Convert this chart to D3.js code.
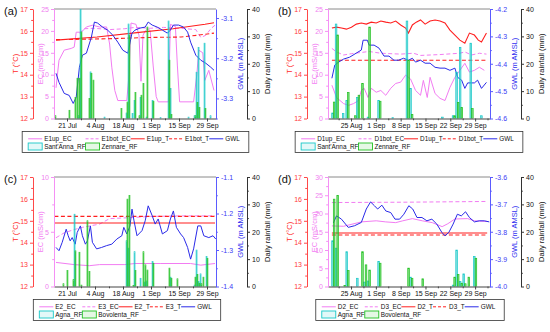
<!DOCTYPE html>
<html>
<head>
<meta charset="utf-8">
<script src="https://cdn.jsdelivr.net/npm/d3@7"></script>
<style>
  body { margin: 0; background: #fff; }
  svg { font-family: Arial, 'Liberation Sans', sans-serif; }
</style>
</head>
<body>
<svg id="chart" width="550" height="332"></svg>
<script>
// dates are written as 'Mon day', day may be fractional
const monthIdx = { Jul: 6, Aug: 7, Sep: 8, Oct: 9 };
const day = s => {
  const [m, d] = s.split(' ');
  return new Date(Date.UTC(2019, monthIdx[m], 1) + (+d - 1) * 864e5);
};

/* ---------- panel (a) : E1 ---------- */
const e1upEC = [['Jul 15.5', 7], ['Jul 17', 13.3], ['Jul 19.6', 15.6], ['Jul 23.1', 16], ['Jul 24.6', 16.3],
  ['Jul 25.6', 19.7], ['Jul 28.2', 19.7], ['Jul 30.7', 20.9], ['Aug 2.7', 21.3], ['Aug 6.3', 20.9],
  ['Aug 9.8', 20.9], ['Aug 11.3', 17], ['Aug 12.4', 11.7], ['Aug 13.9', 6.4], ['Aug 15.4', 4.1],
  ['Aug 19.9', 4.1], ['Aug 21', 10], ['Aug 22', 21.8], ['Aug 24.5', 21.5], ['Aug 26', 19], ['Aug 27', 8.5],
  ['Aug 28', 19], ['Aug 29.1', 20], ['Aug 30.6', 20.5], ['Aug 31.6', 20], ['Sep 2.1', 12], ['Sep 3.6', 5],
  ['Sep 4.6', 3.8], ['Sep 9.7', 3.8], ['Sep 10.7', 21.5], ['Sep 13.2', 21], ['Sep 14.2', 12],
  ['Sep 15.3', 3.8], ['Sep 22.3', 3.8], ['Sep 23.9', 10], ['Sep 24.9', 15.6], ['Sep 26.9', 15],
  ['Sep 27.9', 8.7], ['Sep 29.9', 11], ['Oct 2.5', 6.4]];
const e1botEC = [['Jul 27.2', 19.5], ['Jul 29.7', 20.5], ['Aug 3.7', 20.6], ['Aug 11.3', 20.3], ['Aug 18.9', 20.5],
  ['Aug 24', 20.8], ['Aug 31.6', 20.6], ['Sep 7.2', 20.8], ['Sep 15.8', 20.6], ['Sep 23.4', 20.3],
  ['Sep 25.9', 18.5], ['Sep 28.4', 19], ['Sep 30.9', 20.5], ['Oct 3', 21.3]];
const e1upT = [['Jul 15.5', 15.58], ['Aug 5', 15.72], ['Aug 25', 15.92], ['Sep 12', 16.1], ['Sep 28', 16.3], ['Oct 2.5', 16.37]];
const e1botT = [['Jul 15.5', 15.6], ['Aug 10', 15.64], ['Aug 31', 15.7], ['Sep 16', 15.72], ['Sep 24', 15.8], ['Oct 2.5', 15.9]];
const gwlE1 = [['Jul 15.5', -3.2375], ['Jul 17', -3.26], ['Jul 19.6', -3.2875], ['Jul 22.1', -3.2925],
  ['Jul 24.1', -3.3125], ['Jul 25.6', -3.2975], ['Jul 27.2', -3.2225], ['Jul 28.7', -3.1925],
  ['Jul 30.7', -3.1875], ['Aug 2.2', -3.1475], ['Aug 3.7', -3.11], ['Aug 5.3', -3.1125], ['Aug 7.8', -3.1225],
  ['Aug 10.3', -3.13], ['Aug 12.9', -3.1425], ['Aug 15.4', -3.16], ['Aug 17.9', -3.18], ['Aug 20.4', -3.1875],
  ['Aug 22.5', -3.1375], ['Aug 24', -3.13], ['Aug 26.5', -3.125], ['Aug 29.1', -3.1225], ['Aug 30.6', -3.11],
  ['Sep 1.6', -3.1175], ['Sep 4.1', -3.1225], ['Sep 6.7', -3.13], ['Sep 9.2', -3.1375], ['Sep 10.7', -3.13],
  ['Sep 12.2', -3.1175], ['Sep 14.8', -3.1175], ['Sep 17.3', -3.1225], ['Sep 19.3', -3.135],
  ['Sep 20.8', -3.16], ['Sep 23.4', -3.1925], ['Sep 25.9', -3.205], ['Sep 28.4', -3.2125],
  ['Sep 30.9', -3.2225], ['Oct 2.5', -3.23]];

/* ---------- panel (b) : D1 ---------- */
const d1upT = [['Aug 19.6', 16.13], ['Aug 20.9', 16.17], ['Aug 22.3', 16.13], ['Aug 23.7', 16.08], ['Aug 25.1', 16.17],
  ['Aug 26.5', 16.31], ['Aug 27.9', 16.36], ['Aug 29.3', 16.31], ['Aug 30.7', 16.4], ['Sep 1.1', 16.36],
  ['Sep 2.4', 16.45], ['Sep 3.8', 16.4], ['Sep 5.2', 16.36], ['Sep 6.6', 16.45], ['Sep 8', 16.27],
  ['Sep 9.4', 16.13], ['Sep 10.2', 15.9], ['Sep 11.3', 16.27], ['Sep 12.4', 16.4], ['Sep 13.6', 16.5],
  ['Sep 14.9', 16.31], ['Sep 16.3', 16.45], ['Sep 17.7', 16.5], ['Sep 19.1', 16.45], ['Sep 20.5', 16.36],
  ['Sep 21.9', 16.04], ['Sep 23.3', 15.81], ['Sep 24.7', 15.58], ['Sep 26.1', 15.44], ['Sep 27.4', 15.9],
  ['Sep 28.8', 15.81], ['Sep 29.9', 15.58], ['Sep 30.8', 15.49], ['Oct 2.2', 15.9]];
const d1botT = [['Aug 19.6', 14.66], ['Oct 2.5', 14.66]];
const d1upEC = [['Aug 19.6', 7.6], ['Aug 20.9', 4.8], ['Aug 22.9', 3.4], ['Aug 24.3', 3], ['Aug 25.7', 3.4],
  ['Aug 27.1', 4.1], ['Aug 27.9', 6.4], ['Aug 28.7', 6.9], ['Aug 29.8', 4.8], ['Aug 30.7', 6.9], ['Sep 1.1', 6],
  ['Sep 2.4', 6.4], ['Sep 3.8', 5.3], ['Sep 5.2', 6.9], ['Sep 6.6', 8], ['Sep 8', 8.3], ['Sep 9.4', 9.9],
  ['Sep 10.2', 9.4], ['Sep 10.8', 9], ['Sep 12.2', 6.4], ['Sep 13.6', 5.3], ['Sep 14.4', 8.7], ['Sep 15.5', 4.8],
  ['Sep 16.3', 9.4], ['Sep 17.7', 5.7], ['Sep 19.1', 4.6], ['Sep 20.5', 4.1], ['Sep 21.9', 7.1], ['Sep 23.3', 9.4],
  ['Sep 24.7', 11], ['Sep 26.1', 12.6], ['Sep 27.4', 10.6], ['Sep 28.8', 11], ['Sep 30.2', 11.7], ['Oct 1.6', 11]];
const d1botEC = [['Aug 19.6', 16], ['Aug 20.9', 15.2], ['Aug 22.9', 14.5], ['Aug 25.1', 14.8], ['Aug 30.1', 15.3],
  ['Sep 2.4', 14.9], ['Sep 8', 14.7], ['Sep 11.6', 14.9], ['Sep 13.6', 14.4], ['Sep 19.1', 14.6],
  ['Sep 24.7', 14.9], ['Sep 26.1', 15.2], ['Sep 28', 14.5], ['Sep 30.2', 14.9], ['Oct 2.2', 14.7]];
const gwlD1 = [['Aug 19.6', -4.453], ['Aug 20.4', -4.405], ['Aug 21.5', -4.394], ['Aug 22.9', -4.383],
  ['Aug 24.6', -4.376], ['Aug 26.5', -4.361], ['Aug 27.9', -4.35], ['Aug 28.4', -4.314], ['Aug 29.6', -4.314],
  ['Aug 30.1', -4.332], ['Aug 31.5', -4.332], ['Sep 1.9', -4.343], ['Sep 3.3', -4.372], ['Sep 4.7', -4.372],
  ['Sep 6.1', -4.387], ['Sep 7.4', -4.387], ['Sep 8.8', -4.38], ['Sep 10.2', -4.387], ['Sep 11.3', -4.38],
  ['Sep 12.2', -4.394], ['Sep 13.6', -4.387], ['Sep 14.9', -4.398], ['Sep 16.3', -4.398], ['Sep 17.7', -4.413],
  ['Sep 19.1', -4.416], ['Sep 20.5', -4.416], ['Sep 21.9', -4.424], ['Sep 23.3', -4.416], ['Sep 24.1', -4.45],
  ['Sep 25.2', -4.46], ['Sep 26.1', -4.49], ['Sep 26.9', -4.47], ['Sep 28', -4.47], ['Sep 28.8', -4.47],
  ['Sep 29.7', -4.46], ['Sep 30.8', -4.49], ['Oct 2.2', -4.468]];

/* ---------- panel (c) : E2 / E3 ---------- */
const e2EC = [['Jul 15.5', 2.2], ['Jul 24.6', 2.0], ['Aug 1.2', 1.9], ['Aug 6.3', 2.0], ['Aug 18.9', 2.0],
  ['Aug 24', 2.1], ['Sep 5.6', 2.1], ['Sep 20.8', 2.1], ['Sep 25.9', 1.95], ['Oct 3', 2.1]];
const e3EC = [['Jul 15.5', 4.45], ['Jul 19.6', 4.9], ['Jul 24.6', 5.2], ['Jul 28.7', 5.4], ['Aug 6.3', 5.7],
  ['Aug 11.3', 6.2], ['Aug 23', 6.3], ['Aug 31.6', 6.4], ['Sep 15.8', 6.45], ['Oct 3', 6.45]];
const e2T = [['Jul 14.7', 14.9], ['Oct 3', 14.9]];
const e3T = [['Jul 14.7', 15.2], ['Oct 3', 15.2]];
const gwlE2 = [['Jul 15.5', -1.293], ['Jul 17', -1.302], ['Jul 18.6', -1.279], ['Jul 20.6', -1.243],
  ['Jul 21.6', -1.261], ['Jul 22.6', -1.275], ['Jul 23.6', -1.266], ['Jul 25.1', -1.284], ['Jul 26.1', -1.252],
  ['Jul 27.7', -1.234], ['Jul 28.7', -1.261], ['Jul 30.2', -1.284], ['Jul 31.2', -1.275], ['Aug 1.7', -1.234],
  ['Aug 2.7', -1.279], ['Aug 4.8', -1.297], ['Aug 7.3', -1.293], ['Aug 9.8', -1.288], ['Aug 12.4', -1.284],
  ['Aug 14.9', -1.27], ['Aug 17.4', -1.261], ['Aug 18.4', -1.238], ['Aug 19.9', -1.256], ['Aug 21.5', -1.234],
  ['Aug 22.5', -1.188], ['Aug 23.5', -1.22], ['Aug 25', -1.261], ['Aug 27.5', -1.247], ['Aug 29.1', -1.22],
  ['Aug 30.6', -1.179], ['Sep 1.6', -1.206], ['Sep 3.1', -1.229], ['Sep 4.6', -1.215], ['Sep 6.7', -1.256],
  ['Sep 9.2', -1.247], ['Sep 10.7', -1.215], ['Sep 12.2', -1.193], ['Sep 13.7', -1.238], ['Sep 15.8', -1.256],
  ['Sep 17.3', -1.266], ['Sep 19.3', -1.293], ['Sep 20.8', -1.325], ['Sep 22.3', -1.297], ['Sep 24.4', -1.234],
  ['Sep 25.9', -1.234], ['Sep 27.4', -1.261], ['Sep 29.9', -1.266], ['Oct 2', -1.261], ['Oct 3.4', -1.27]];

/* ---------- panel (d) : D2 / D3 ---------- */
const d2EC = [['Aug 19.6', 16.6], ['Aug 22.9', 16.5], ['Aug 27.9', 17.7], ['Sep 1.1', 18.0], ['Sep 3.8', 17.7],
  ['Sep 6.6', 17.5], ['Sep 8.6', 18.0], ['Sep 11.3', 18.6], ['Sep 14.1', 18.0], ['Sep 16.9', 17.5],
  ['Sep 19.7', 16.4], ['Sep 21.3', 17.2], ['Sep 23.3', 18.5], ['Sep 26.9', 18.6], ['Sep 28.8', 18.0], ['Oct 2.4', 17.8]];
const d3EC = [['Aug 19.6', 23.0], ['Sep 10', 23.1], ['Oct 2.4', 23.3]];
const d2T = [['Aug 19.6', 14.44], ['Oct 2.4', 14.44]];
const d3T = [['Aug 19.6', 14.35], ['Oct 2.4', 14.35]];
const gwlD2 = [['Aug 20', -3.768], ['Aug 20.9', -3.742], ['Aug 22.3', -3.754], ['Aug 24.2', -3.784],
  ['Aug 26', -3.778], ['Aug 27.9', -3.766], ['Aug 29.3', -3.717], ['Aug 30.5', -3.691], ['Aug 31.6', -3.705],
  ['Sep 1.5', -3.717], ['Sep 2.7', -3.703], ['Sep 3.8', -3.724], ['Sep 5.2', -3.73], ['Sep 6.4', -3.754],
  ['Sep 7.7', -3.754], ['Sep 8.9', -3.736], ['Sep 10.3', -3.705], ['Sep 11.4', -3.717], ['Sep 12.6', -3.748],
  ['Sep 14', -3.748], ['Sep 15.4', -3.76], ['Sep 16.8', -3.754], ['Sep 18.2', -3.772], ['Sep 19.6', -3.802],
  ['Sep 20.5', -3.815], ['Sep 21.6', -3.802], ['Sep 22.8', -3.772], ['Sep 24', -3.736], ['Sep 25.1', -3.742],
  ['Sep 26.3', -3.727], ['Sep 27.4', -3.748], ['Sep 28.8', -3.764], ['Sep 30.2', -3.76], ['Oct 1.6', -3.76],
  ['Oct 3', -3.764]];

/* ---------- daily rainfall (mm) ---------- */
const rfDates1 = ['Jul 15', 'Jul 22', 'Jul 25', 'Jul 26', 'Jul 27', 'Jul 28', 'Aug 1', 'Aug 2', 'Aug 3', 'Aug 9',
  'Aug 17', 'Aug 20', 'Aug 21', 'Aug 23', 'Aug 24', 'Aug 26', 'Aug 27', 'Aug 28', 'Aug 30', 'Sep 2', 'Sep 6',
  'Sep 10', 'Sep 11', 'Sep 20', 'Sep 23', 'Sep 24', 'Sep 25', 'Sep 28', 'Oct 1'];
const santAnnaRF = [0, 0, 0, 0, 1, 40, 0, 17, 0, 0.5, 0, 2, 34.5, 1.8, 6.6, 0, 7.7, 0, 0.5, 6.6, 0.3,
  35.6, 11, 0.5, 1, 16.9, 26, 27.5, 1];
const zennareRF = [1, 3, 7.7, 14.7, 14.7, 31.6, 7.3, 16.5, 14, 0, 3.6, 6, 30.5, 0, 9.5, 1, 8.5, 12.8, 33.4, 6.3, 0,
  21.3, 1.5, 0, 1, 5.9, 4, 3.6, 0];

const rfDates2 = ['Jul 19', 'Jul 21', 'Jul 24', 'Jul 25', 'Jul 27', 'Jul 28', 'Jul 31', 'Aug 1', 'Aug 20', 'Aug 21',
  'Aug 23', 'Aug 24', 'Aug 27', 'Aug 28', 'Aug 29', 'Aug 30', 'Sep 2', 'Sep 10', 'Sep 11', 'Sep 14', 'Sep 23',
  'Sep 24', 'Sep 25', 'Sep 26', 'Sep 27', 'Sep 29'];
const agnaRF = [0, 0, 0, 26.4, 0, 0, 0, 0, 16.7, 14, 0, 12.7, 3, 0, 1.6, 2, 9.1, 0, 3.4, 0, 0.5, 13.3, 1.8, 4.6, 0, 11];
const bovolentaRF = [1, 5.8, 2.5, 13, 12.5, 0.5, 24, 5.5, 31.9, 33.3, 0.4, 5.8, 0, 12.7, 7.9, 6, 8.5, 6.7, 3, 2.8, 3.4,
  4.4, 1.2, 1, 3.4, 10.3];

/* ---------- axes ---------- */
const ticksJul = ['Jul 21', 'Aug 4', 'Aug 18', 'Sep 1', 'Sep 15', 'Sep 29'];
const minorJul = ['Jul 28', 'Aug 11', 'Aug 25', 'Sep 8', 'Sep 22'];
const ticksAug = ['Aug 25', 'Sep 1', 'Sep 8', 'Sep 15', 'Sep 22', 'Sep 29'];
const minorAug = ['Aug 21.5', 'Aug 28.5', 'Sep 4.5', 'Sep 11.5', 'Sep 18.5', 'Sep 25.5', 'Oct 2.5'];
const tTicks = [12, 13, 14, 15, 16, 17];
const rainTicks = [0, 10, 20, 30, 40];

const RED = '#ff1f1f', RED_AX = '#ff4848';
const VIO = '#f27cf2', VIO_AX = '#f590f5';
const BLUE = '#2a2ae8', BLUE_AX = '#5b5bff';
const CYAN = '#19c8c8', GREEN = '#22c022';

const W = 162, H = 109.5;
const svg = d3.select('#chart');

const panels = [
  { label: '(a)', left: 54, top: 9, dom: ['Jul 14.5', 'Oct 3.5'], ticks: ticksJul, minor: minorJul,
    ec: [0, 25], ecTicks: [0, 5, 10, 15, 20, 25], gwl: [-3.35, -3.0775], gwlTicks: [-3.3, -3.2, -3.1],
    series: [['E1up_EC', e1upEC, 'ec', VIO, false], ['E1bot_EC', e1botEC, 'ec', VIO, true],
      ['E1up_T', e1upT, 't', RED, false], ['E1bot_T', e1botT, 't', RED, true], ['GWL', gwlE1, 'gwl', BLUE, false]],
    rf: [rfDates1, santAnnaRF, zennareRF, "Sant'Anna_RF", 'Zennare_RF'], legendCx: 135.5 },
  { label: '(b)', left: 328, top: 9, dom: ['Aug 18.5', 'Oct 3.2'], ticks: ticksAug, minor: minorAug,
    ec: [0, 25], ecTicks: [0, 5, 10, 15, 20, 25], gwl: [-4.6, -4.2], gwlTicks: [-4.6, -4.5, -4.4, -4.3, -4.2],
    series: [['D1up_EC', d1upEC, 'ec', VIO, false], ['D1bot_EC', d1botEC, 'ec', VIO, true],
      ['D1up_T', d1upT, 't', RED, false], ['D1bot_T', d1botT, 't', RED, true], ['GWL', gwlD1, 'gwl', BLUE, false]],
    rf: [rfDates1, santAnnaRF, zennareRF, "Sant'Anna_RF", 'Zennare_RF'], legendCx: 409 },
  { label: '(c)', left: 54, top: 177, dom: ['Jul 14.5', 'Oct 3.5'], ticks: ticksJul, minor: minorJul,
    ec: [0, 10], ecTicks: [0, 5, 10], gwl: [-1.4, -1.1], gwlTicks: [-1.4, -1.3, -1.2, -1.1],
    series: [['E2_EC', e2EC, 'ec', VIO, false], ['E3_EC', e3EC, 'ec', VIO, true],
      ['E2_T', e2T, 't', RED, false], ['E3_T', e3T, 't', RED, true], ['GWL', gwlE2, 'gwl', BLUE, false]],
    rf: [rfDates2, agnaRF, bovolentaRF, 'Agna_RF', 'Bovolenta_RF'], legendCx: 127 },
  { label: '(d)', left: 328, top: 177, dom: ['Aug 18.5', 'Oct 3.2'], ticks: ticksAug, minor: minorAug,
    ec: [0, 30], ecTicks: [0, 5, 10, 15, 20, 25, 30], gwl: [-4.0, -3.6], gwlTicks: [-4.0, -3.9, -3.8, -3.7, -3.6],
    series: [['D2_EC', d2EC, 'ec', VIO, false], ['D3_EC', d3EC, 'ec', VIO, true],
      ['D2_T', d2T, 't', RED, false], ['D3_T', d3T, 't', RED, true], ['GWL', gwlD2, 'gwl', BLUE, false]],
    rf: [rfDates2, agnaRF, bovolentaRF, 'Agna_RF', 'Bovolenta_RF'], legendCx: 410 }
];

function styleAxis(sel, color, textColor) {
  sel.select('.domain').attr('stroke', color).attr('stroke-width', 1);
  sel.selectAll('.tick line').attr('stroke', color);
  sel.selectAll('.tick text').attr('fill', textColor || color).attr('font-size', 7);
  sel.attr('font-family', null);
}

function minorAxis(g, axis, values, color) {
  const m = g.append('g').call(axis.tickValues(values).tickSize(1.8).tickFormat(''));
  m.select('.domain').remove();
  m.selectAll('.tick line').attr('stroke', color);
  return m;
}

panels.forEach((p, pi) => {
  const g = svg.append('g').attr('transform', `translate(${p.left},${p.top})`);
  const x = d3.scaleUtc().domain(p.dom.map(day)).range([0, W]);
  const yT = d3.scaleLinear().domain([12, 17]).range([H, 0]);
  const yEC = d3.scaleLinear().domain(p.ec).range([H, 0]);
  const yG = d3.scaleLinear().domain(p.gwl).range([H, 0]);
  const yR = d3.scaleLinear().domain([0, 40]).range([H, 0]);
  const yOf = { t: yT, ec: yEC, gwl: yG };

  const clipId = 'clip' + pi;
  g.append('clipPath').attr('id', clipId).append('rect')
    .attr('x', 0).attr('y', 0).attr('width', W).attr('height', H);

  // top frame line
  g.append('line').attr('x1', 0).attr('x2', W).attr('y1', 0).attr('y2', 0)
    .attr('stroke', '#8a8a8a').attr('stroke-width', 1);

  const plot = g.append('g').attr('clip-path', `url(#${clipId})`);

  // series lines
  p.series.forEach(([name, data, ax, color, dash]) => {
    plot.append('path')
      .datum(data)
      .attr('fill', 'none')
      .attr('stroke', color)
      .attr('stroke-width', ax === 't' ? 1.1 : 1)
      .attr('stroke-dasharray', dash ? '4,2.5' : null)
      .attr('d', d3.line().x(d => x(day(d[0]))).y(d => yOf[ax](d[1])));
  });

  // rainfall bars (two stations side by side)
  const [rfDates, rfA, rfB] = p.rf;
  const dayW = x(day('Aug 20')) - x(day('Aug 19'));
  const bw = dayW * 0.45;
  [[rfA, CYAN, 'rgba(25,200,200,0.55)', -bw], [rfB, GREEN, 'rgba(40,200,40,0.6)', 0]].forEach(([vals, stroke, fill, off]) => {
    plot.append('g').selectAll('rect')
      .data(rfDates.map((d, i) => [d, vals[i]]).filter(d => d[1] > 0))
      .enter()
      .append('rect')
      .attr('x', d => x(day(d[0])) + off)
      .attr('width', bw)
      .attr('y', d => yR(d[1]))
      .attr('height', d => H - yR(d[1]))
      .attr('fill', fill)
      .attr('stroke', stroke)
      .attr('stroke-width', 0.7);
  });

  // bottom axis
  const axB = d3.axisBottom(x).tickValues(p.ticks.map(day)).tickFormat(d3.utcFormat('%-d %b'))
    .tickSize(3).tickSizeOuter(0).tickPadding(2);
  const gb = g.append('g').attr('transform', `translate(0,${H})`).call(axB);
  styleAxis(gb, '#444', '#111');
  minorAxis(gb, d3.axisBottom(x), p.minor.map(day).filter(d => d <= x.domain()[1]), '#444');

  // T axis
  const gt = g.append('g').attr('transform', 'translate(-21,0)')
    .call(d3.axisLeft(yT).tickValues(tTicks).tickFormat(d3.format('d'))
      .tickSize(3).tickSizeOuter(0).tickPadding(2));
  styleAxis(gt, RED_AX, '#ff3a3a');
  minorAxis(gt, d3.axisLeft(yT), d3.range(12.5, 17, 1), RED_AX);

  // EC axis
  const ge = g.append('g')
    .call(d3.axisLeft(yEC).tickValues(p.ecTicks).tickFormat(d3.format('d'))
      .tickSize(3).tickSizeOuter(0).tickPadding(2));
  styleAxis(ge, VIO_AX, '#f07ff0');
  minorAxis(ge, d3.axisLeft(yEC), d3.range(2.5, p.ec[1], 5), VIO_AX);

  // GWL axis
  const gg = g.append('g').attr('transform', `translate(${W},0)`)
    .call(d3.axisRight(yG).tickValues(p.gwlTicks).tickFormat(d => d.toFixed(1))
      .tickSize(3).tickSizeOuter(0).tickPadding(2));
  styleAxis(gg, BLUE_AX, '#3b3bf5');
  const gMinor = d3.range(Math.ceil(p.gwl[0] / 0.05), Math.floor(p.gwl[1] / 0.05) + 1)
    .map(k => k * 0.05).filter(v => !p.gwlTicks.some(t => Math.abs(t - v) < 1e-6));
  minorAxis(gg, d3.axisRight(yG), gMinor, BLUE_AX);

  // rainfall axis
  const gr = g.append('g').attr('transform', `translate(${W + 31},0)`)
    .call(d3.axisRight(yR).tickValues(rainTicks).tickFormat(d3.format('d'))
      .tickSize(3).tickSizeOuter(0).tickPadding(2));
  styleAxis(gr, '#333', '#111');
  minorAxis(gr, d3.axisRight(yR), [5, 15, 25, 35], '#333');

  // axis titles
  const title = (tx, text, color) => g.append('text')
    .attr('transform', `translate(${tx},${H / 2}) rotate(-90)`)
    .attr('text-anchor', 'middle').attr('dy', '0.35em')
    .attr('font-size', 7.5).attr('fill', color).text(text);
  title(-39, 'T (°C)', '#ff2a2a');
  title(-14, 'EC (mS/cm)', '#f27cf2');
  title(W + 24, 'GWL (m AMSL)', '#2f2ff0');
  title(W + 51, 'Daily rainfall (mm)', '#111');

  // panel label
  svg.append('text').attr('x', p.left - 50).attr('y', p.top + 6).attr('font-size', 11)
    .attr('fill', '#111').text(p.label);

  // legend
  const lg = svg.append('g');
  const fs = 6.4, samp = 14, gap = 2;
  const measure = t => {
    const n = lg.append('text').attr('font-size', fs).text(t);
    const w = n.node().getComputedTextLength();
    n.remove();
    return w;
  };
  const row1 = p.series.map(s => s[0]);
  const w1 = row1.map(measure);
  const w2 = [measure(p.rf[3]), measure(p.rf[4])];
  const col = [0, samp + gap + Math.max(w1[0], w2[0])];
  for (let i = 2; i < row1.length; i++) col[i] = col[i - 1] + samp + gap + w1[i - 1];
  const total = Math.max(col[4] + samp + gap + w1[4], col[1] + samp + gap + w2[1]);
  const boxW = total + 15;
  const bx = p.legendCx - boxW / 2;
  const by = p.top + H + 13;
  lg.append('rect').attr('x', bx).attr('y', by).attr('width', boxW).attr('height', 21)
    .attr('fill', '#fff').attr('stroke', '#333').attr('stroke-width', 0.8);
  const lx = bx + 6;
  p.series.forEach(([name, , , color, dash], i) => {
    lg.append('line').attr('x1', lx + col[i]).attr('x2', lx + col[i] + samp)
      .attr('y1', by + 7.3).attr('y2', by + 7.3)
      .attr('stroke', color).attr('stroke-width', 1).attr('stroke-dasharray', dash ? '3,2' : null);
    lg.append('text').attr('x', lx + col[i] + samp + gap).attr('y', by + 9.6)
      .attr('font-size', fs).attr('fill', '#111').text(name);
  });
  [[p.rf[3], CYAN, 'rgba(25,200,200,0.12)'], [p.rf[4], GREEN, 'rgba(40,200,40,0.12)']].forEach(([name, stroke, fill], i) => {
    lg.append('rect').attr('x', lx + col[i]).attr('y', by + 11.5).attr('width', samp).attr('height', 7)
      .attr('fill', fill).attr('stroke', stroke).attr('stroke-width', 0.9);
    lg.append('text').attr('x', lx + col[i] + samp + gap).attr('y', by + 17.6)
      .attr('font-size', fs).attr('fill', '#111').text(name);
  });
});
</script>
</body>
</html>
